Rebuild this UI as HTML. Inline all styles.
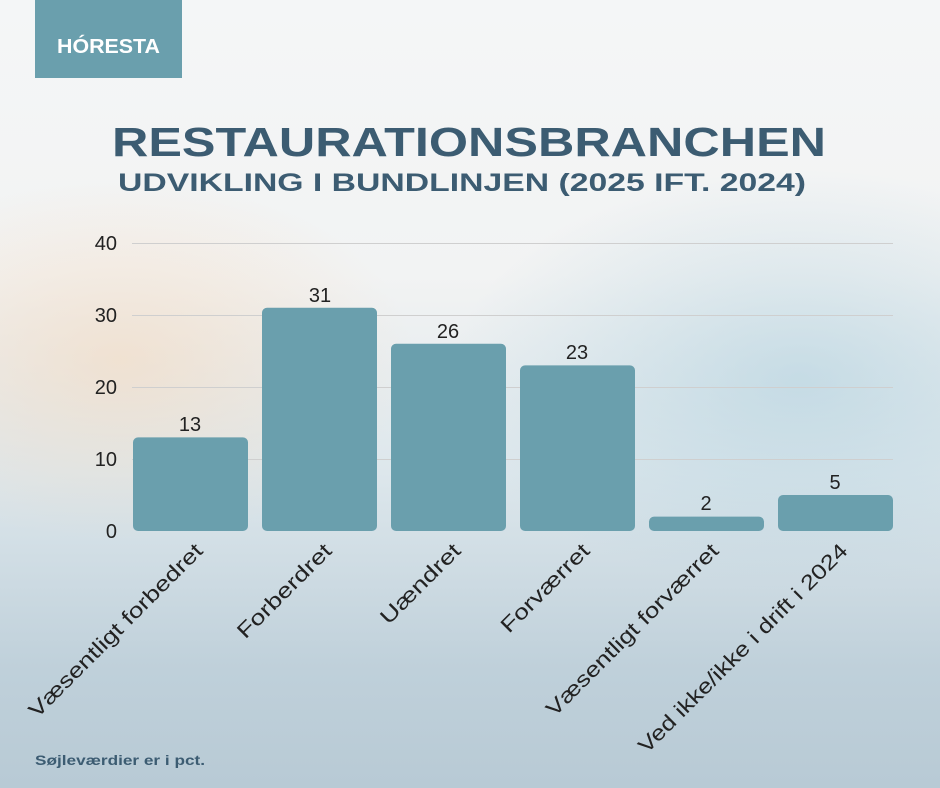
<!DOCTYPE html>
<html><head><meta charset="utf-8"><style>
body{margin:0;width:940px;height:788px;overflow:hidden;font-family:"Liberation Sans",sans-serif;}
.bg{position:absolute;left:0;top:0;width:940px;height:788px;
background:
radial-gradient(ellipse 420px 260px at 120px 360px, rgba(245,215,185,0.55), rgba(245,215,185,0) 70%),
radial-gradient(ellipse 500px 300px at 800px 380px, rgba(170,205,220,0.55), rgba(170,205,220,0) 70%),
linear-gradient(180deg,#f4f6f7 0%,#f2f3f3 35%,#dde7ec 60%,#bfd0da 85%,#b8cad5 100%);}
</style></head><body>
<div class="bg"></div>
<svg width="940" height="788" style="position:absolute;left:0;top:0">
<rect x="35" y="0" width="147" height="78" fill="#6a9fad"/>
<text x="57" y="53" font-size="20" font-weight="bold" fill="#fff" textLength="103" lengthAdjust="spacingAndGlyphs">HÓRESTA</text>
<text x="112" y="156" font-size="41" font-weight="bold" fill="#3c5c72" textLength="714" lengthAdjust="spacingAndGlyphs">RESTAURATIONSBRANCHEN</text>
<text x="118" y="191" font-size="25" font-weight="bold" fill="#3c5c72" textLength="688" lengthAdjust="spacingAndGlyphs">UDVIKLING I BUNDLINJEN (2025 IFT. 2024)</text>
<g stroke="#cfcfcf" stroke-width="1">
<line x1="132" x2="893" y1="243.5" y2="243.5"/><line x1="132" x2="893" y1="315.5" y2="315.5"/>
<line x1="132" x2="893" y1="387.5" y2="387.5"/><line x1="132" x2="893" y1="459.5" y2="459.5"/>
</g>
<g font-size="20" fill="#222" text-anchor="end">
<text x="117" y="250">40</text><text x="117" y="322">30</text><text x="117" y="394">20</text><text x="117" y="466">10</text><text x="117" y="538">0</text>
</g>
<g fill="#6a9fad">
<rect x="133" y="437.4" width="115" height="93.6" rx="5"/>
<rect x="262" y="307.8" width="115" height="223.2" rx="5"/>
<rect x="391" y="343.8" width="115" height="187.2" rx="5"/>
<rect x="520" y="365.4" width="115" height="165.6" rx="5"/>
<rect x="649" y="516.6" width="115" height="14.4" rx="5"/>
<rect x="778" y="495" width="115" height="36" rx="5"/>
</g>
<g font-size="20" fill="#222" text-anchor="middle">
<text x="190" y="431">13</text><text x="320" y="302">31</text><text x="448" y="338">26</text>
<text x="577" y="359">23</text><text x="706" y="510">2</text><text x="835" y="489">5</text>
</g>
<g font-size="21" fill="#222" text-anchor="end" lengthAdjust="spacingAndGlyphs">
<text transform="translate(204,552) rotate(-45)" textLength="236" lengthAdjust="spacingAndGlyphs">Væsentligt forbedret</text>
<text transform="translate(333,552) rotate(-45)" textLength="124" lengthAdjust="spacingAndGlyphs">Forberdret</text>
<text transform="translate(462,552) rotate(-45)" textLength="104" lengthAdjust="spacingAndGlyphs">Uændret</text>
<text transform="translate(591,552) rotate(-45)" textLength="116" lengthAdjust="spacingAndGlyphs">Forværret</text>
<text transform="translate(720,552) rotate(-45)" textLength="234" lengthAdjust="spacingAndGlyphs">Væsentligt forværret</text>
<text transform="translate(849,552) rotate(-45)" textLength="286" lengthAdjust="spacingAndGlyphs">Ved ikke/ikke i drift i 2024</text>
</g>
<text x="35" y="765" font-size="14" font-weight="bold" fill="#3c5c72" textLength="170" lengthAdjust="spacingAndGlyphs">Søjleværdier er i pct.</text>
</svg>
</body></html>
